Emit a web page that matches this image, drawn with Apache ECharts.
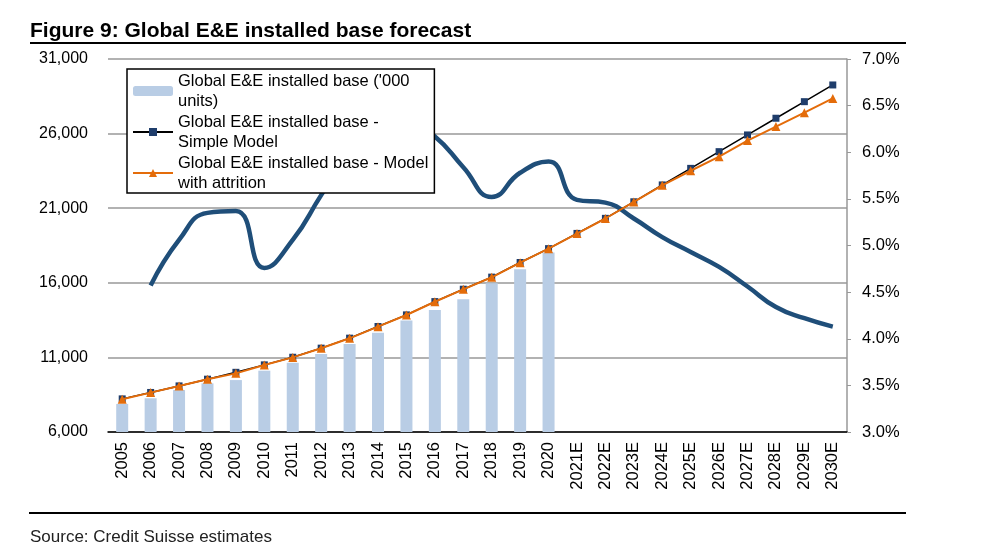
<!DOCTYPE html>
<html>
<head>
<meta charset="utf-8">
<script src="https://cdn.jsdelivr.net/npm/echarts@6/dist/echarts.min.js"></script>
<style>
  html, body { margin: 0; padding: 0; background: #fff; }
  #main { width: 1000px; height: 551px; }
</style>
</head>
<body>
<div id="main"></div>
<script>
// 数据
var years = ['2005','2006','2007','2008','2009','2010','2011','2012','2013','2014','2015','2016','2017','2018','2019','2020',
             '2021E','2022E','2023E','2024E','2025E','2026E','2027E','2028E','2029E','2030E'];

// installed base ('000 units), actuals only
var installedBase = [7880, 8260, 8810, 9260, 9480, 10110, 10640, 11230, 11900, 12660, 13470, 14180, 14900, 15970, 16910, 18030];

var simpleModel = [8220, 8650, 9090, 9540, 10000, 10500, 11010, 11620, 12290, 13070, 13850, 14740, 15570, 16380, 17360, 18290,
                   19310, 20320, 21430, 22560, 23670, 24790, 25910, 27030, 28140, 29260];

var attritionModel = [8190, 8640, 9080, 9530, 9930, 10490, 11000, 11610, 12280, 13060, 13840, 14730, 15560, 16370, 17350, 18290,
                      19300, 20310, 21420, 22530, 23510, 24450, 25530, 26470, 27400, 28360];

// growth rate (%), right axis
var growth = [null, 4.57, 5.06, 5.35, 5.37, 4.76, 5.06, 5.54, 6.00, 6.30, 6.34, 6.17, 5.84, 5.52, 5.78, 5.90,
              5.49, 5.46, 5.29, 5.09, 4.93, 4.77, 4.56, 4.34, 4.22, 4.13];

var leftTicks = { min: 6000, max: 31000, step: 5000 };
var rightTicks = { min: 3, max: 7, step: 0.5 };

(function(){

var myChart = echarts.init(document.getElementById('main'));

var font = 'Liberation Sans, Arial, sans-serif';

option = {
    animation: false,
    textStyle: { fontFamily: font },
    title: {
        text: 'Figure 9: Global E&E installed base forecast',
        left: 25,
        top: 16,
        textStyle: { fontFamily: font, fontSize: 21, fontWeight: 'bold', color: '#000' }
    },
    graphic: [
        { type: 'line', shape: { x1: 30, y1: 43, x2: 906, y2: 43 }, style: { stroke: '#000', lineWidth: 2 } },
        { type: 'line', shape: { x1: 29, y1: 513, x2: 906, y2: 513 }, style: { stroke: '#000', lineWidth: 2 } },
        { type: 'text', left: 30, top: 529, style: { text: 'Source: Credit Suisse estimates', font: '17px ' + font, fill: '#222' } }
    ],
    legend: {
        data: ['Global E&E installed base (\'000 units)', 'Global E&E installed base - Simple Model', 'Global E&E installed base - Model with attrition'],
        formatter: function (name) {
            if (name.indexOf('units') > -1) return 'Global E&E installed base (\'000\nunits)';
            if (name.indexOf('Simple') > -1) return 'Global E&E installed base -\nSimple Model';
            return 'Global E&E installed base - Model\nwith attrition';
        },
        orient: 'vertical',
        left: 127,
        top: 69,
        padding: [2, 6, 0, 5],
        itemGap: 1,
        itemWidth: 40,
        itemHeight: 10,
        backgroundColor: '#fff',
        borderColor: '#000',
        borderWidth: 1.5,
        borderRadius: 0,
        textStyle: { fontFamily: font, fontSize: 16.5, color: '#000', lineHeight: 20 },
        z: 10
    },
    grid: {
        left: 108,
        right: 153,
        top: 59,
        bottom: 119
    },
    xAxis: {
        type: 'category',
        data: years,
        boundaryGap: true,
        axisLine: { lineStyle: { color: '#000', width: 1.5 } },
        axisTick: { length: 5, lineStyle: { color: '#000', width: 1.5 } },
        axisLabel: { rotate: 90, fontSize: 16.5, color: '#000', margin: 10, interval: 0 }
    },
    yAxis: [
        {
            type: 'value',
            min: leftTicks.min,
            max: leftTicks.max,
            interval: leftTicks.step,
            axisLine: { show: false },
            axisTick: { show: false },
            splitLine: { lineStyle: { color: '#999', width: 1.5 } },
            axisLabel: {
                fontSize: 16, color: '#000', margin: 20,
                formatter: function (v) { return v.toLocaleString('en-US'); }
            }
        },
        {
            type: 'value',
            min: rightTicks.min,
            max: rightTicks.max,
            interval: rightTicks.step,
            position: 'right',
            axisLine: { show: true, lineStyle: { color: '#999', width: 1.5 } },
            axisTick: { show: true, length: 4, lineStyle: { color: '#999' } },
            splitLine: { show: false },
            axisLabel: {
                fontSize: 16.5, color: '#000', margin: 15,
                formatter: function (v) { return v.toFixed(1) + '%'; }
            }
        }
    ],
    series: [
        {
            name: 'Global E&E installed base (\'000 units)',
            type: 'bar',
            data: installedBase,
            barWidth: 12,
            itemStyle: { color: '#b9cde5' },
            z: 1
        },
        {
            name: 'growth',
            type: 'line',
            yAxisIndex: 1,
            data: growth,
            smooth: 0.5,
            showSymbol: false,
            symbol: 'none',
            lineStyle: { color: '#1f4e79', width: 4.5 },
            itemStyle: { color: '#1f4e79' },
            z: 2
        },
        {
            name: 'Global E&E installed base - Simple Model',
            type: 'line',
            data: simpleModel,
            symbol: 'rect',
            symbolSize: 7,
            lineStyle: { color: '#000', width: 1.5 },
            itemStyle: { color: '#1f3d6b' },
            z: 3
        },
        {
            name: 'Global E&E installed base - Model with attrition',
            type: 'line',
            data: attritionModel,
            symbol: 'triangle',
            symbolSize: 9,
            lineStyle: { color: '#e46c0a', width: 2 },
            itemStyle: { color: '#e46c0a' },
            z: 4
        }
    ]
};

myChart.setOption(option);
})();
</script>
</body>
</html>
